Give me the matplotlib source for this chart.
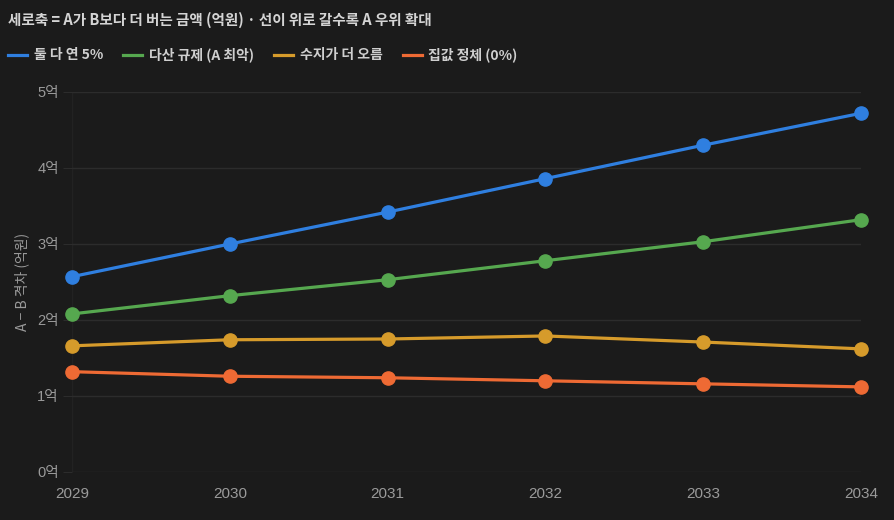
import matplotlib
matplotlib.use("Agg")
import matplotlib.pyplot as plt
from matplotlib.lines import Line2D

plt.rcParams['font.family'] = ['Noto Sans CJK KR', 'DejaVu Sans']

years = [2029, 2030, 2031, 2032, 2033, 2034]
both_5 = [2.57, 3.00, 3.42, 3.86, 4.30, 4.72]
multi_reg = [2.08, 2.32, 2.53, 2.78, 3.03, 3.32]
suji_up = [1.66, 1.74, 1.75, 1.79, 1.71, 1.62]
flat = [1.32, 1.26, 1.24, 1.20, 1.16, 1.12]

series = [
    ("둘 다 연 5%", both_5, "#2f7fe0"),
    ("다산 규제 (A 최악)", multi_reg, "#56a84f"),
    ("수지가 더 오름", suji_up, "#d69b2b"),
    ("집값 정체 (0%)", flat, "#ee6a34"),
]
yticks = [0, 1, 2, 3, 4, 5]

bg = "#1b1b1b"
grid_c = "#2c2c2c"
tick_c = "#9a9a9a"
tick_font = ['Liberation Sans', 'Noto Sans CJK KR']

fig = plt.figure(figsize=(8.94, 5.2), dpi=100, facecolor=bg)
ax = fig.add_axes([72/894, 48/520, (861-72)/894, (472-92)/520])
ax.set_facecolor(bg)

for name, vals, col in series:
    ax.plot(years, vals, color=col, lw=2.3, marker='o', ms=9.5,
            clip_on=False, zorder=3)

ax.set_xlim(2029, 2034)
ax.set_ylim(0, 5)
ax.set_xticks(years)
ax.set_xticklabels([str(y) for y in years], family=tick_font, fontsize=11)
ax.set_yticks(yticks)
ax.set_yticklabels([f"{v}억" for v in yticks], family=tick_font, fontsize=10.5)
ax.grid(axis='y', color=grid_c, lw=1)
ax.axvline(2029, color="#222222", lw=1, zorder=0)
for s in ax.spines.values():
    s.set_visible(False)
ax.tick_params(axis='y', length=6.5, color=grid_c, labelcolor=tick_c, pad=3)
ax.tick_params(axis='x', length=0, labelcolor=tick_c, pad=11)
ax.set_ylabel("A − B 격차 (억원)", color=tick_c, fontsize=10, labelpad=6)

fig.text(8/894, 1 - 20/520, "세로축 = A가 B보다 더 버는 금액 (억원) · 선이 위로 갈수록 A 우위 확대",
         color="#d4d4d4", fontsize=10.5, fontweight='bold', va='center', ha='left')

handles = [Line2D([], [], color=c, lw=2.3) for _, _, c in series]
leg = fig.legend(handles, [n for n, _, _ in series], loc='center left',
                 bbox_to_anchor=(4/894, 1 - 55/520), ncol=4, frameon=False,
                 handlelength=1.35, handletextpad=0.5, columnspacing=1.45,
                 borderaxespad=0, borderpad=0.3,
                 prop={'size': 10, 'weight': 'bold'})
for t in leg.get_texts():
    t.set_color("#cfcfcf")

fig.savefig("out.png", dpi=100, facecolor=bg)
